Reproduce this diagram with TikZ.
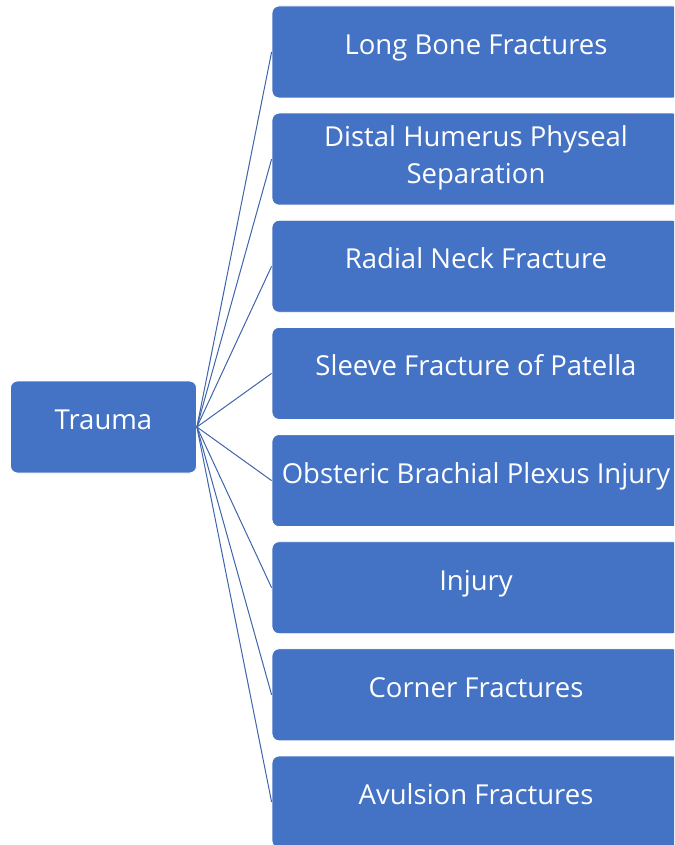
\documentclass[tikz,border=0pt]{standalone}
\usepackage{fontspec}
\setmainfont{Open Sans}
\usetikzlibrary{positioning}
\definecolor{officeblue}{HTML}{4472C4}
\definecolor{linkblue}{HTML}{3E64AC}
\tikzset{
  topic/.style={draw=white,fill=officeblue,line width=0.8pt,rounded corners=7pt,
                text=white,align=center,inner sep=0pt,
                font=\fontsize{27.5}{37}\selectfont,
                text height=20pt,text depth=15pt},
  itembox/.style={topic,minimum width=408pt,minimum height=92pt},
  tworows/.style={text height=57pt,text depth=9pt},
  rootbox/.style={topic,minimum width=186pt,minimum height=92pt},
  link/.style={draw=linkblue,line width=1pt}
}

\begin{document}
\begin{tikzpicture}[x=1pt,y=1pt]
    \clip (0,0) rectangle (674,-845);
    \useasboundingbox (0,0) rectangle (674,-845);

    \node[rootbox] (trauma) at (103.5,-427) {Trauma};

    \node[itembox] (longbone)  at (476,-52)    {Long Bone Fractures};
    \node[itembox,tworows] (humerus) at (476,-159.1) {Distal Humerus Physeal\\Separation};
    \node[itembox] (radial)    at (476,-266.3) {Radial Neck Fracture};
    \node[itembox] (sleeve)    at (476,-373.4) {Sleeve Fracture of Patella};
    \node[itembox] (brachial)  at (476,-480.6) {Obsteric Brachial Plexus Injury};
    \node[itembox] (injury)    at (476,-587.7) {Injury};
    \node[itembox] (corner)    at (476,-694.8) {Corner Fractures};
    \node[itembox] (avulsion)  at (476,-802)   {Avulsion Fractures};

    \foreach \n in {longbone,humerus,radial,sleeve,brachial,injury,corner,avulsion}
      \draw[link] (trauma.east) -- (\n.west);
\end{tikzpicture}
\end{document}
